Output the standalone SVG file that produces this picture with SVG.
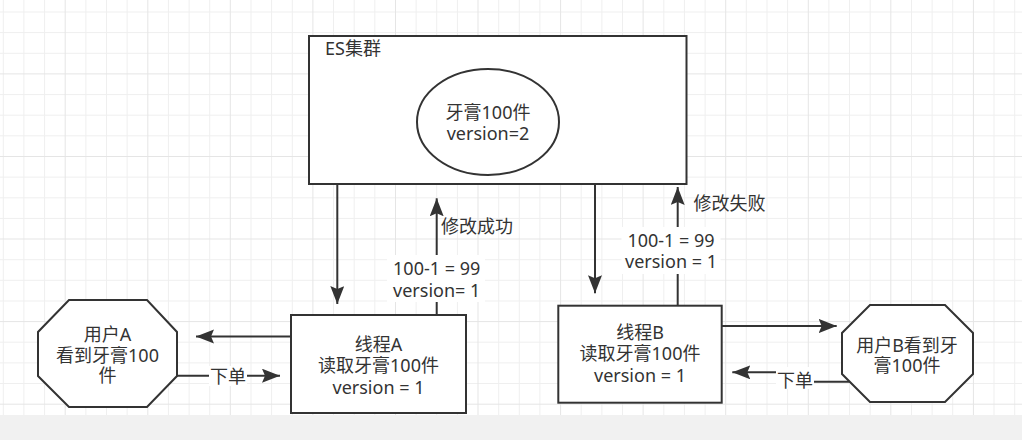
<svg xmlns="http://www.w3.org/2000/svg" width="1022" height="440" viewBox="0 0 1022 440">
<style>
.shape{fill:#ffffff;stroke:#333333;stroke-width:2}
.edge{fill:none;stroke:#333333;stroke-width:2}
.t{font-family:"Noto Sans","Noto Sans CJK SC",sans-serif;font-size:18px;fill:#333333}
.c{text-anchor:middle}
.bg{fill:#ffffff}
.minor{fill:none;stroke:#efefef;stroke-width:1}
.major{fill:none;stroke:#e5e5e5;stroke-width:1}
</style>
<defs>
<marker id="arr" markerUnits="userSpaceOnUse" markerWidth="20" markerHeight="16" refX="18" refY="7" orient="auto">
<path d="M0,0 L18,7 L0,14 L3,7 Z" fill="#333333"/>
</marker>
</defs>
<rect x="0" y="0" width="1022" height="415" fill="#ffffff"/>
<rect x="0" y="415" width="1022" height="25" fill="#f1f1f1"/>
<g id="grid">
<path class="minor" d="M3.3 0V415M23.9 0V415M44.6 0V415M85.9 0V415M106.5 0V415M127.1 0V415M168.4 0V415M189.1 0V415M209.7 0V415M251 0V415M271.6 0V415M292.3 0V415M333.5 0V415M354.2 0V415M374.8 0V415M416.1 0V415M436.7 0V415M457.4 0V415M498.7 0V415M519.3 0V415M539.9 0V415M581.2 0V415M601.9 0V415M622.5 0V415M663.8 0V415M684.4 0V415M705.1 0V415M746.3 0V415M767 0V415M787.6 0V415M828.9 0V415M849.5 0V415M870.2 0V415M911.5 0V415M932.1 0V415M952.7 0V415M994 0V415M1014.7 0V415M0 12H1022M0 32.6H1022M0 53.3H1022M0 94.6H1022M0 115.2H1022M0 135.8H1022M0 177.1H1022M0 197.8H1022M0 218.4H1022M0 259.7H1022M0 280.3H1022M0 301H1022M0 342.2H1022M0 362.9H1022M0 383.5H1022"/>
<path class="major" d="M65.2 0V415M147.8 0V415M230.3 0V415M312.9 0V415M395.5 0V415M478 0V415M560.6 0V415M643.1 0V415M725.7 0V415M808.3 0V415M890.8 0V415M973.4 0V415M0 73.9H1022M0 156.5H1022M0 239H1022M0 321.6H1022M0 404.2H1022"/>
</g>
<g id="es-cluster">
<rect class="shape" x="309" y="36" width="377.5" height="148"/>
<text class="t" x="325" y="55">ES集群</text>
</g>
<g id="toothpaste">
<ellipse class="shape" cx="488" cy="122" rx="71" ry="53"/>
<text class="t c" x="488" y="119"><tspan x="488">牙膏100件</tspan><tspan x="488" dy="20.5">version=2</tspan></text>
</g>
<g id="user-a">
<polygon class="shape" points="69,300 147,300 177,332 177,376 147,407 69,407 38,376 38,332"/>
<text class="t c" x="107.5" y="340.5"><tspan x="107.5">用户A</tspan><tspan x="107.5" dy="21">看到牙膏100</tspan><tspan x="107.5" dy="20.5">件</tspan></text>
</g>
<g id="thread-a">
<rect class="shape" x="291" y="315" width="175" height="98"/>
<text class="t c" x="378.5" y="350.5"><tspan x="378.5">线程A</tspan><tspan x="378.5" dy="21.5">读取牙膏100件</tspan><tspan x="378.5" dy="21.5">version = 1</tspan></text>
</g>
<g id="thread-b">
<rect class="shape" x="558.3" y="305.7" width="163.4" height="97"/>
<text class="t c" x="640" y="338.5"><tspan x="640">线程B</tspan><tspan x="640" dy="21.5">读取牙膏100件</tspan><tspan x="640" dy="21.5">version = 1</tspan></text>
</g>
<g id="user-b">
<polygon class="shape" points="870,305 945,305 973,333 973,374 945,402 870,402 842,374 842,333"/>
<text class="t c" x="907" y="351.5"><tspan x="907">用户B看到牙</tspan><tspan x="907" dy="20.5">膏100件</tspan></text>
</g>
<g id="connectors">
<path class="edge" d="M291 336.5H196" marker-end="url(#arr)"/>
<path class="edge" d="M177 375.7H280" marker-end="url(#arr)"/>
<path class="edge" d="M337.3 184V304" marker-end="url(#arr)"/>
<path class="edge" d="M436.7 315V198.3" marker-end="url(#arr)"/>
<path class="edge" d="M595 184V293.3" marker-end="url(#arr)"/>
<path class="edge" d="M677.7 305.7V187" marker-end="url(#arr)"/>
<path class="edge" d="M722 326H836.7" marker-end="url(#arr)"/>
<path class="edge" d="M849.7 381.7H795V372.3H732.3" marker-end="url(#arr)"/>
<rect class="bg" x="387" y="255" width="98" height="47"/>
<text class="t c" x="436.7" y="275"><tspan x="436.7">100-1 = 99</tspan><tspan x="436.7" dy="21.5">version= 1</tspan></text>
<text class="t" x="441" y="233">修改成功</text>
<rect class="bg" x="621.5" y="227" width="99" height="47"/>
<text class="t c" x="671" y="246.5"><tspan x="671">100-1 = 99</tspan><tspan x="671" dy="21.5">version = 1</tspan></text>
<text class="t" x="693.5" y="210">修改失败</text>
<rect class="bg" x="209" y="366" width="38" height="20"/>
<text class="t c" x="228" y="383">下单</text>
<rect class="bg" x="776" y="367" width="38" height="22"/>
<text class="t c" x="795" y="386.5">下单</text>
</g>
</svg>
